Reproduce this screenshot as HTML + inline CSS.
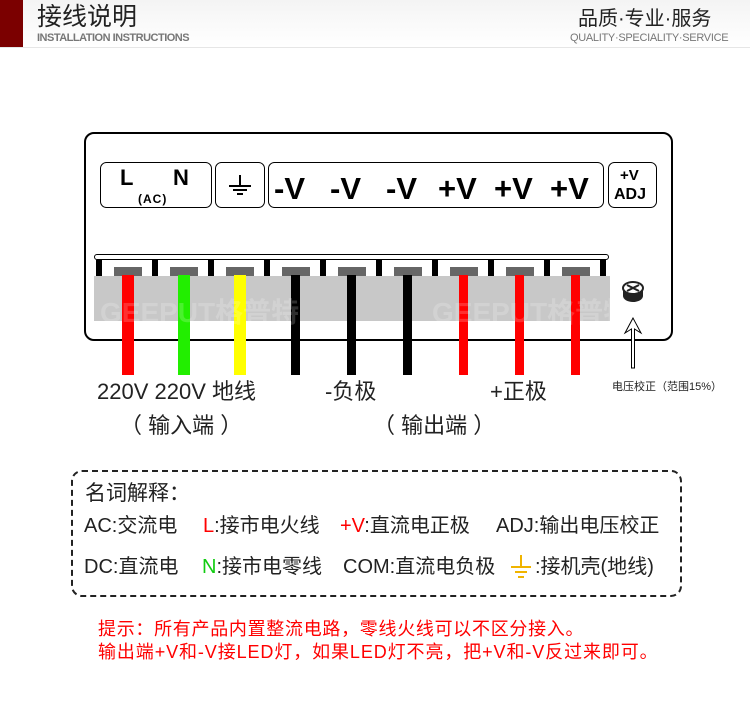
<!DOCTYPE html>
<html><head><meta charset="utf-8"><style>
body{margin:0;width:750px;height:716px;background:#fff;overflow:hidden;position:relative;font-family:"Liberation Sans","Noto Sans CJK SC",sans-serif}
.a{position:absolute;white-space:nowrap;line-height:1}
.g{font-size:20px;color:#222}
</style></head><body>
<div class="a" style="left:0;top:0;width:750px;height:47px;background:linear-gradient(#f4f4f4,#fff);border-bottom:1px solid #e6e6e6"></div>
<div class="a" style="left:0;top:0;width:23px;height:47px;background:#7b0000"></div>
<div class="a" style="left:37px;top:5px;font-size:25px;color:#222">接线说明</div>
<div class="a" style="left:37px;top:33px;font-size:11px;font-weight:bold;color:#777;letter-spacing:-0.5px">INSTALLATION INSTRUCTIONS</div>
<div class="a" style="left:578px;top:9px;font-size:20px;color:#222">品质·专业·服务</div>
<div class="a" style="left:570px;top:33px;font-size:11px;color:#777;letter-spacing:-0.3px">QUALITY·SPECIALITY·SERVICE</div>

<svg class="a" style="left:0;top:0" width="750" height="716">
<rect x="85" y="133" width="587" height="207" rx="9" fill="none" stroke="#000" stroke-width="2"/>
<g fill="none" stroke="#000" stroke-width="1">
<rect x="100.5" y="162.5" width="111" height="45" rx="6"/>
<rect x="215.5" y="162.5" width="49" height="45" rx="6"/>
<rect x="268.5" y="162.5" width="335" height="45" rx="6"/>
<rect x="608.5" y="162.5" width="48" height="45" rx="6"/>
</g>
<g font-family="Liberation Sans" font-weight="bold" fill="#000">
<text x="120" y="185" font-size="22">L</text>
<text x="173" y="185" font-size="22">N</text>
<text x="138" y="203" font-size="12" letter-spacing="1">(AC)</text>
<text x="274" y="199" font-size="31">-V</text>
<text x="330" y="199" font-size="31">-V</text>
<text x="386" y="199" font-size="31">-V</text>
<text x="438" y="199" font-size="31">+V</text>
<text x="494" y="199" font-size="31">+V</text>
<text x="550" y="199" font-size="31">+V</text>
<text x="620" y="180" font-size="15">+V</text>
<text x="614" y="199" font-size="16">ADJ</text>
</g>
<g stroke="#000" stroke-width="2"><line x1="240" y1="175" x2="240" y2="185"/><line x1="229" y1="186" x2="251" y2="186"/><line x1="233" y1="190" x2="247" y2="190"/><line x1="237" y1="194" x2="243" y2="194"/></g>
<rect x="94.5" y="254.5" width="514" height="5" rx="2.5" fill="#fff" stroke="#000"/>
<g fill="#000">
<rect x="96" y="260" width="6" height="16"/><rect x="152" y="260" width="6" height="16"/><rect x="208" y="260" width="6" height="16"/><rect x="264" y="260" width="6" height="16"/><rect x="320" y="260" width="6" height="16"/><rect x="376" y="260" width="6" height="16"/><rect x="432" y="260" width="6" height="16"/><rect x="488" y="260" width="6" height="16"/><rect x="544" y="260" width="6" height="16"/><rect x="600" y="260" width="6" height="16"/>
</g>
<g fill="#666">
<rect x="114" y="267" width="28" height="9"/><rect x="170" y="267" width="28" height="9"/><rect x="226" y="267" width="28" height="9"/><rect x="282" y="267" width="28" height="9"/><rect x="338" y="267" width="28" height="9"/><rect x="394" y="267" width="28" height="9"/><rect x="450" y="267" width="28" height="9"/><rect x="506" y="267" width="28" height="9"/><rect x="562" y="267" width="28" height="9"/>
</g>
<rect x="94" y="276" width="516" height="45" fill="#c8c8c8"/>
<g>
<rect x="122" y="275" width="12" height="100" fill="#ff0000"/>
<rect x="178" y="275" width="12" height="100" fill="#22ee00"/>
<rect x="234" y="275" width="12" height="100" fill="#ffff00"/>
<rect x="291" y="275" width="9" height="100" fill="#000"/>
<rect x="347" y="275" width="9" height="100" fill="#000"/>
<rect x="403" y="275" width="9" height="100" fill="#000"/>
<rect x="459" y="275" width="9" height="100" fill="#ff0000"/>
<rect x="515" y="275" width="9" height="100" fill="#ff0000"/>
<rect x="571" y="275" width="9" height="100" fill="#ff0000"/>
</g>
<g font-size="28" font-weight="bold" fill="#fff" opacity="0.18" font-family="Liberation Sans,Noto Sans CJK SC"><text x="100" y="322">GEEPUT格普特</text><text x="432" y="322">GEEPUT格普特</text></g>
<ellipse cx="633" cy="296" rx="10" ry="6" fill="#222"/>
<rect x="623" y="288" width="20" height="8" fill="#222"/>
<ellipse cx="633" cy="288" rx="10" ry="6" fill="#fff" stroke="#222" stroke-width="2"/>
<path d="M627 285 L639 291 M639 285 L627 291" stroke="#222" stroke-width="2"/>
<path d="M633 318 L625 333 L631.5 329 L631.5 368 L634.5 368 L634.5 329 L641 333 Z" fill="#fff" stroke="#000"/>
<rect x="72" y="471" width="609" height="125" rx="10" fill="none" stroke="#222" stroke-width="2" stroke-dasharray="6,4"/>
<g stroke="#f0b400" stroke-width="2"><line x1="521" y1="555" x2="521" y2="566"/><line x1="511" y1="567" x2="531" y2="567"/><line x1="515" y1="572" x2="527" y2="572"/><line x1="518" y1="577" x2="524" y2="577"/></g>
</svg>

<div class="a" style="left:97px;top:381px;font-size:22px;color:#222">220V 220V 地线</div>
<div class="a" style="left:120px;top:415px;font-size:22px;color:#222">（ 输入端 ）</div>
<div class="a" style="left:325px;top:381px;font-size:22px;color:#222">-负极</div>
<div class="a" style="left:490px;top:381px;font-size:22px;color:#222">+正极</div>
<div class="a" style="left:373px;top:415px;font-size:22px;color:#222">（ 输出端 ）</div>
<div class="a" style="left:612px;top:382px;font-size:11px;color:#222">电压校正（范围15%）</div>

<div class="a" style="left:85px;top:483px;font-size:21px;color:#222">名词解释：</div>
<div class="a g" style="left:84px;top:516px">AC:交流电</div>
<div class="a g" style="left:203px;top:516px"><span style="color:#f00">L</span>:接市电火线</div>
<div class="a g" style="left:340px;top:516px"><span style="color:#f00">+V</span>:直流电正极</div>
<div class="a g" style="left:496px;top:516px">ADJ:输出电压校正</div>
<div class="a g" style="left:84px;top:557px">DC:直流电</div>
<div class="a g" style="left:202px;top:557px"><span style="color:#1c1">N</span>:接市电零线</div>
<div class="a g" style="left:343px;top:557px">COM:直流电负极</div>
<div class="a g" style="left:535px;top:557px">:接机壳(地线)</div>

<div class="a" style="left:98px;top:620px;font-size:18px;letter-spacing:0.7px;color:#f00">提示：所有产品内置整流电路，零线火线可以不区分接入。</div>
<div class="a" style="left:98px;top:643px;font-size:18px;letter-spacing:0.9px;color:#f00">输出端+V和-V接LED灯，如果LED灯不亮，把+V和-V反过来即可。</div>
</body></html>
